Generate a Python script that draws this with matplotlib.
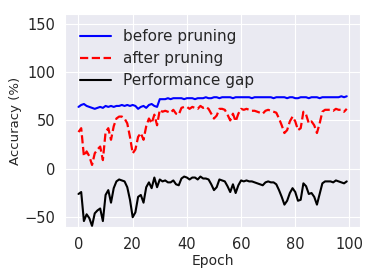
import numpy as np
import matplotlib
matplotlib.use('Agg')
import matplotlib.pyplot as plt
import seaborn as sns

# accuracy per epoch
epochs = list(range(100))
before = [64, 66, 67, 65, 64, 63, 62, 63, 64, 63,
          65, 64, 65, 64, 65, 65, 66, 65, 66, 65,
          66, 65, 62, 64, 65, 63, 66, 67, 65, 64,
          72, 72, 72, 73, 72, 73, 73, 73, 73, 72,
          73, 73, 73, 72, 73, 73, 73, 74, 73, 73,
          74, 74, 73, 74, 74, 74, 74, 73, 74, 74,
          74, 74, 74, 74, 73, 74, 74, 74, 74, 74,
          74, 74, 73, 74, 74, 74, 74, 73, 74, 74,
          73, 73, 74, 74, 74, 73, 74, 74, 74, 73,
          74, 74, 74, 74, 74, 74, 74, 75, 74, 75]
after = [38, 42, 13, 18, 13, 4, 16, 20, 23, 9,
         38, 42, 30, 44, 52, 54, 54, 52, 47, 33,
         16, 20, 33, 37, 30, 44, 52, 47, 56, 45,
         61, 59, 60, 59, 58, 61, 57, 56, 63, 64,
         64, 62, 64, 63, 62, 65, 63, 64, 62, 57,
         52, 55, 62, 62, 61, 56, 50, 57, 49, 57,
         62, 61, 62, 61, 60, 60, 59, 58, 57, 60,
         61, 60, 59, 58, 52, 45, 37, 40, 49, 54,
         49, 40, 42, 59, 56, 47, 49, 45, 37, 47,
         59, 61, 61, 61, 60, 62, 61, 61, 59, 62]
gap = list(np.array(after) - np.array(before))

sns.set_style('darkgrid')

fig = plt.figure(figsize=(3.74, 2.75), dpi=100)
ax = fig.add_axes([0.174, 0.175, 0.789, 0.774])

ax.plot(epochs, before, color='blue', lw=1.5, label='before pruning')
ax.plot(epochs, after, color='red', lw=1.6, ls='--', label='after pruning')
ax.plot(epochs, gap, color='black', lw=1.5, label='Performance gap')

ax.set_ylim(-60, 160)
ax.set_yticks([-50, 0, 50, 100, 150])
ax.set_xticks([0, 20, 40, 60, 80, 100])
ax.tick_params(labelsize=10.5, colors='.15')
ax.set_xlabel('Epoch', fontsize=10, labelpad=2, color='.15')
ax.set_ylabel('Accuracy (%)', fontsize=9.5, labelpad=2, color='.15')

ax.legend(loc='upper left', frameon=False, fontsize=11,
          borderaxespad=0.6, handlelength=2.0, labelspacing=0.45)

fig.savefig('out.png', dpi=100)
